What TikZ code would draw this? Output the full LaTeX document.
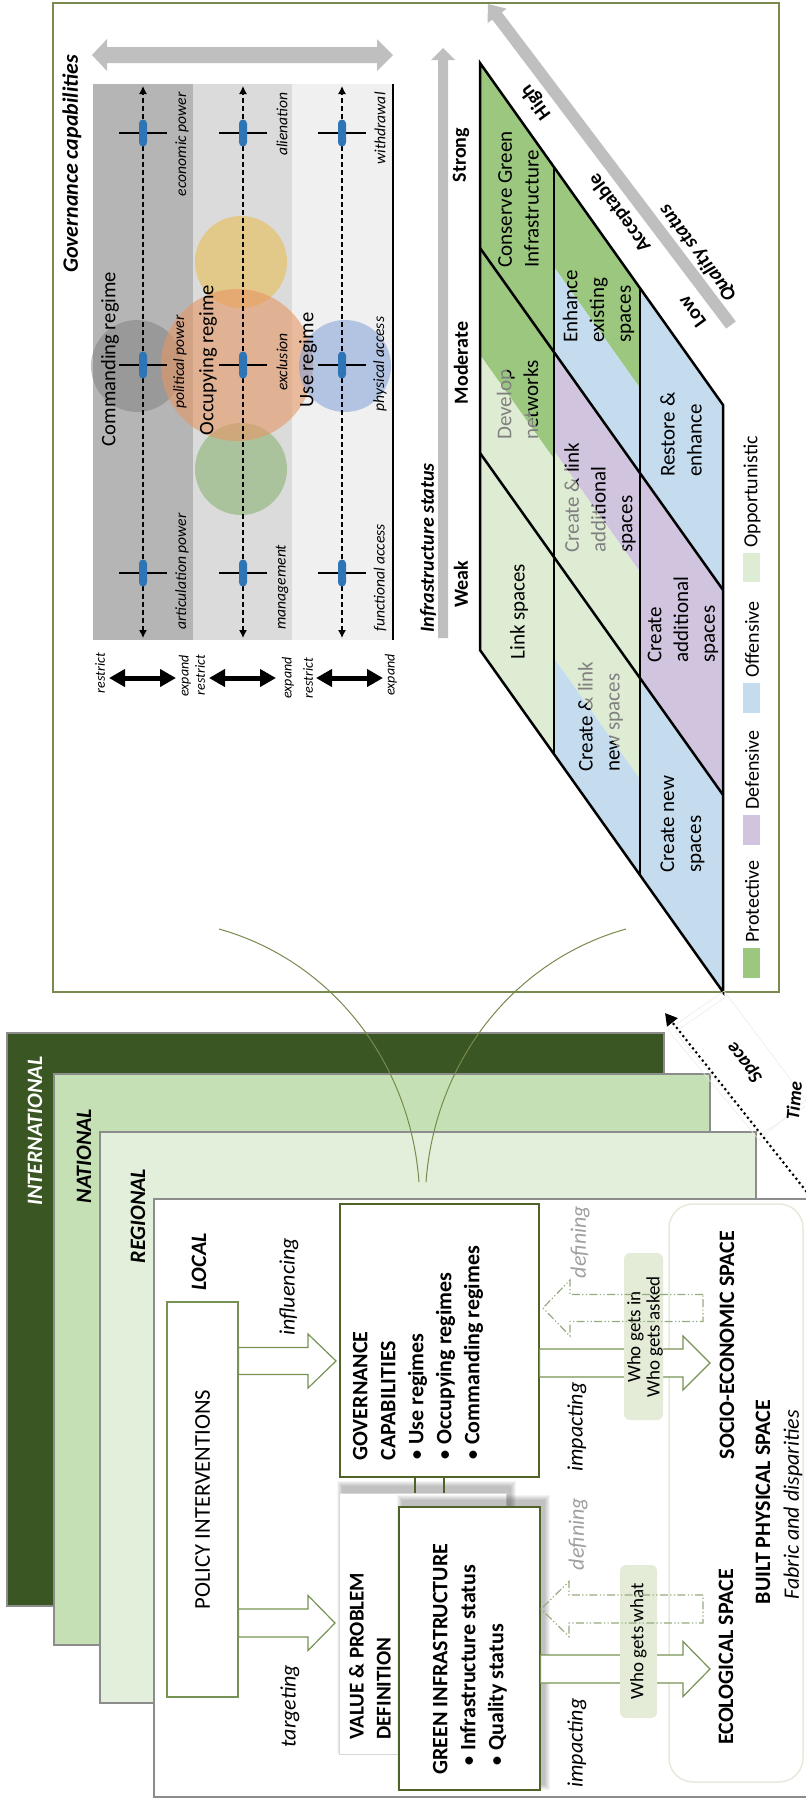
\documentclass[tikz,border=0pt]{standalone}
\usepackage{fontspec}
\setmainfont{Carlito}
\usetikzlibrary{arrows.meta,calc}

\newcommand{\setfs}[2]{\fontsize{#1pt}{#2pt}\selectfont}
\newcommand{\bul}{{\mdseries\textbullet}\hspace{2.5pt}}
% horizontal block arrow: options, tail, tip, half shaft, half head, head length
\newcommand{\blockarrow}[6]{%
  \draw[#1] let \p1=(#2), \p3=(#3), \p2=($(#3)!#6!(#2)$) in
    (\x1,\y3+#4) -- (\x2,\y3+#4) -- (\x2,\y3+#5) -- (\x3,\y3)
    -- (\x2,\y3-#5) -- (\x2,\y3-#4) -- (\x1,\y3-#4) -- cycle;}

\definecolor{panelline}{RGB}{120,138,78}
\definecolor{boxline}{RGB}{118,146,84}
\definecolor{govline}{RGB}{79,98,40}
\definecolor{arrline}{RGB}{118,146,84}
\definecolor{defline}{RGB}{150,170,130}
\definecolor{deftext}{RGB}{160,160,160}
\definecolor{layline}{RGB}{140,140,140}
\definecolor{intgreen}{RGB}{58,86,35}
\definecolor{natgreen}{RGB}{197,224,180}
\definecolor{reggreen}{RGB}{226,239,218}
\definecolor{whofill}{RGB}{228,236,216}
\definecolor{spaceline}{RGB}{228,235,220}
\definecolor{lightbox}{RGB}{215,215,215}
\definecolor{bandA}{RGB}{181,181,181}
\definecolor{bandB}{RGB}{219,219,219}
\definecolor{bandC}{RGB}{240,240,240}
\definecolor{arrgray}{RGB}{191,191,191}
\definecolor{capblue}{RGB}{46,117,182}
\definecolor{protgreen}{RGB}{155,199,126}
\definecolor{oppgreen}{RGB}{223,236,212}
\definecolor{offblue}{RGB}{197,220,239}
\definecolor{defpurple}{RGB}{208,196,222}
\definecolor{cellgray}{RGB}{128,128,128}
\definecolor{circgray}{RGB}{120,120,120}
\definecolor{circgreen}{RGB}{140,180,115}
\definecolor{circyellow}{RGB}{232,185,70}
\definecolor{circorange}{RGB}{230,150,100}
\definecolor{circblue}{RGB}{130,160,215}

\tikzset{
  rt/.style={rotate=90, inner sep=0pt},
  celltxt/.style={rt, anchor=west, align=left, font=\setfs{10.5}{13.4}},
  smallit/.style={rt, font=\setfs{7.8}{9}\itshape},
  tinyit/.style={rt, font=\setfs{7}{8}\itshape},
  axlab/.style={rt, font=\setfs{10}{12}\bfseries},
  qlab/.style={rotate=126, inner sep=0pt, font=\setfs{10}{12}\bfseries},
  leglab/.style={rt, anchor=west, font=\setfs{10}{12}},
  laylab/.style={rt, font=\setfs{11}{13}\bfseries\itshape},
  headtxt/.style={rt, anchor=west, align=left, font=\setfs{11}{14}\bfseries},
  verblab/.style={rt, font=\setfs{11}{13}\itshape},
  regimelab/.style={rt, font=\setfs{10.3}{12}},
  spacelab/.style={rt, font=\setfs{11}{13}\bfseries},
  dasharr/.style={line width=0.6pt, dash pattern=on 2.5pt off 1.5pt,
    {Latex[length=4pt,width=4pt]}-{Latex[length=4pt,width=4pt]}},
  bigdbl/.style={line width=2.5pt,
    {Triangle[length=8pt,width=8.5pt]}-{Triangle[length=8pt,width=8.5pt]}},
  blkarrow/.style={draw=arrline, fill=white, line width=0.6pt},
  defarrow/.style={draw=defline, line width=0.6pt,
    dash pattern=on 4pt off 1.2pt on 0.6pt off 1.2pt on 0.6pt off 1.2pt},
  gridline/.style={line width=1.25pt, line join=miter},
}

\begin{document}
\begin{tikzpicture}[x=0.5pt,y=-0.5pt]
\useasboundingbox (0,0) rectangle (806,1800);

% ================= governance capabilities panel =================
\draw[panelline, line width=0.6pt] (53,3) rectangle (779,992);

% regime bands
\fill[bandA] (93,84) rectangle (193,640);
\fill[bandB] (193,84) rectangle (292,640);
\fill[bandC] (292,84) rectangle (393,640);
\draw[line width=1pt] (393,84) -- (393,640);

% regime circles
\fill[circgray, opacity=.45] (137,366) circle[radius=46];
\fill[circgreen, opacity=.6] (241,469) circle[radius=46];
\fill[circyellow, opacity=.55] (241,262) circle[radius=46];
\fill[circorange, opacity=.6] (237,365) circle[radius=76];
\fill[circblue, opacity=.55] (345,366) circle[radius=46];

% wide grey double arrow
\fill[arrgray] (92,55) -- (107,39) -- (107,47) -- (377,47) -- (377,39) -- (393,55)
  -- (377,71) -- (377,63) -- (107,63) -- (107,71) -- cycle;

% capability scales
\foreach \cx [count=\i] in {143,243,342}{
  \coordinate (dtop\i) at (\cx,86);
  \coordinate (dbot\i) at (\cx,638);
  \draw[dasharr] (dbot\i) -- (dtop\i);
  \foreach \cy in {133,365,573}{
    \draw[line width=0.8pt] (\cx-24,\cy) -- (\cx+24,\cy);
    \fill[capblue, rounded corners=2pt] (\cx-4,\cy-13.5) rectangle (\cx+4,\cy+13.5);
  }
}

\node[smallit, anchor=east] (lb-econ) at (182,92) {economic power};
\node[smallit] (lb-pol) at (180,362) {political power};
\node[smallit, anchor=west] (lb-art) at (182,630) {articulation power};
\node[smallit, anchor=east] (lb-alien) at (282,92) {alienation};
\node[smallit] (lb-excl) at (282,362) {exclusion};
\node[smallit, anchor=west] (lb-mgmt) at (282,630) {management};
\node[smallit, anchor=east] (lb-withd) at (380,92) {withdrawal};
\node[smallit] (lb-phys) at (380,364) {physical access};
\node[smallit, anchor=west] (lb-func) at (380,632) {functional access};

\node[regimelab] (rg-cmd) at (110,359) {Commanding regime};
\node[regimelab] (rg-occ) at (208,360) {Occupying regime};
\node[regimelab] (rg-use) at (308,360) {Use regime};
\node[rt, font=\setfs{11}{13}\bfseries\itshape] (gc-title) at (72,164) {Governance capabilities};

% restrict / expand arrows
\foreach \a/\b [count=\i] in {109/176,209/276,316/383}{
  \coordinate (rea\i) at (\a,678);
  \coordinate (reb\i) at (\b,678);
  \draw[bigdbl] (rea\i) -- (reb\i);
}
\node[tinyit] (rs1) at (100,673) {restrict};
\node[tinyit] (ex1) at (185,676) {expand};
\node[tinyit] (rs2) at (200,675) {restrict};
\node[tinyit] (ex2) at (288,678) {expand};
\node[tinyit] (rs3) at (308,678) {restrict};
\node[tinyit] (ex3) at (391,675) {expand};

% ---------- strategy matrix ----------
% high quality band
\fill[protgreen] (480,63) -- (554,167.1) -- (554,352.1) -- (480,248) -- cycle;
\fill[protgreen] (480,248) -- (554,352.1) -- (554,459.1) -- (480,355) -- cycle;
\fill[oppgreen] (480,355) -- (554,459.1) -- (554,557.1) -- (480,453) -- cycle;
\fill[oppgreen] (480,453) -- (554,557.1) -- (554,754.1) -- (480,650) -- cycle;
% acceptable quality band
\fill[protgreen] (554,167.1) -- (640,288.1) -- (640,388.1) -- (554,267.1) -- cycle;
\fill[offblue] (554,267.1) -- (640,388.1) -- (640,473.1) -- (554,352.1) -- cycle;
\fill[defpurple] (554,352.1) -- (640,473.1) -- (640,572.1) -- (554,451.1) -- cycle;
\fill[oppgreen] (554,451.1) -- (640,572.1) -- (640,678.1) -- (554,557.1) -- cycle;
\fill[oppgreen] (554,557.1) -- (640,678.1) -- (640,779.1) -- (554,658.1) -- cycle;
\fill[offblue] (554,658.1) -- (640,779.1) -- (640,875.1) -- (554,754.1) -- cycle;
% low quality band
\fill[offblue] (640,288.1) -- (723,404.9) -- (723,589.9) -- (640,473.1) -- cycle;
\fill[defpurple] (640,473.1) -- (723,589.9) -- (723,794.9) -- (640,678.1) -- cycle;
\fill[offblue] (640,678.1) -- (723,794.9) -- (723,991.9) -- (640,875.1) -- cycle;

% cell texts
\node[celltxt] (c-cons) at (518.5,268) {Conserve Green\\Infrastructure};
\begin{scope}
  \clip (470,200) -- (560,200) -- (560,472) -- (470,301) -- cycle;
  \node[celltxt] (c-dev-a) at (517.5,440) {Develop\\networks};
\end{scope}
\begin{scope}
  \clip (470,301) -- (560,472) -- (560,600) -- (470,600) -- cycle;
  \node[celltxt, text=cellgray] (c-dev-b) at (517.5,440) {Develop\\networks};
\end{scope}
\node[celltxt] (c-link) at (519,660) {Link spaces};
\node[celltxt] (c-enh) at (598.5,343) {Enhance\\existing\\spaces};
\begin{scope}
  \clip (554,352.1) -- (640,473.1) -- (640,572.1) -- (554,451.1) -- cycle;
  \node[celltxt] (c-cla-a) at (600,553) {Create \& link\\additional\\spaces};
\end{scope}
\begin{scope}
  \clip (554,451.1) -- (640,572.1) -- (640,678.1) -- (554,557.1) -- cycle;
  \node[celltxt, text=cellgray] (c-cla-b) at (600,553) {Create \& link\\additional\\spaces};
\end{scope}
\begin{scope}
  \clip (554,557.1) -- (640,678.1) -- (640,779.1) -- (554,658.1) -- cycle;
  \node[celltxt, text=cellgray] (c-cln-a) at (600.5,772) {Create \& link\\new spaces};
\end{scope}
\begin{scope}
  \clip (554,658.1) -- (640,779.1) -- (640,875.1) -- (554,754.1) -- cycle;
  \node[celltxt] (c-cln-b) at (600.5,772) {Create \& link\\new spaces};
\end{scope}
\node[celltxt] (c-rest) at (681,477) {Restore \&\\enhance};
\node[celltxt] (c-cadd) at (683,663) {Create\\additional\\spaces};
\node[celltxt] (c-cnew) at (682.5,873) {Create new\\spaces};

% grid
\draw[gridline] (480,63) -- (723,404.9) -- (723,991.9) -- (480,650) -- cycle;
\draw[gridline] (480,248) -- (723,589.9);
\draw[gridline] (480,453) -- (723,794.9);
\draw[gridline] (554,167.1) -- (554,754.1);
\draw[gridline] (640,288.1) -- (640,875.1);

% axes
\fill[arrgray] (443,48) -- (455,60) -- (448,60) -- (448,638) -- (438,638) -- (438,60) -- (431,60) -- cycle;
\fill[arrgray] (735.8,321.4) -- (501.8,12.3) -- (506.6,8.7) -- (488,4) -- (487.5,23.2)
  -- (492.3,19.6) -- (726.2,328.6) -- cycle;
\node[axlab] (ax-strong) at (461,155) {Strong};
\node[axlab] (ax-mod) at (461,363) {Moderate};
\node[axlab] (ax-weak) at (461,584) {Weak};
\node[rt, font=\setfs{10}{12}\bfseries\itshape] (ax-infra) at (428,548) {Infrastructure status};
\node[qlab] (q-high) at (536,102) {High};
\node[qlab] (q-acc) at (620,213) {Acceptable};
\node[qlab] (q-low) at (692,312) {Low};
\node[rotate=127, inner sep=0pt, font=\setfs{10}{12}\bfseries\itshape] (ax-qual) at (698,253) {Quality status};

% legend
\fill[protgreen] (743,948) rectangle (760,978);
\node[leglab] (lg-prot) at (752,943) {Protective};
\fill[defpurple] (743,815) rectangle (760,845);
\node[leglab] (lg-def) at (752,810) {Defensive};
\fill[offblue] (743,683) rectangle (760,713);
\node[leglab] (lg-off) at (752,678) {Offensive};
\fill[oppgreen] (743,553) rectangle (760,582);
\node[leglab] (lg-opp) at (752,548) {Opportunistic};

% ================= governance levels =================
\draw[layline, line width=0.75pt, fill=intgreen] (7,1033) rectangle (664,1606);
\draw[layline, line width=0.75pt, fill=natgreen] (54,1074) rectangle (710,1645);
\draw[layline, line width=0.75pt, fill=reggreen] (100,1132) rectangle (756,1703);

% zoom lines from the panel
\coordinate (arcA-s) at (219,929);
\coordinate (arcA-e) at (419,1182);
\coordinate (arcB-s) at (626,929);
\coordinate (arcB-e) at (426,1182);
\draw[panelline, line width=0.5pt] (arcA-s) .. controls (330,960) and (410,1060) .. (arcA-e);
\draw[panelline, line width=0.5pt] (arcB-s) .. controls (515,960) and (435,1060) .. (arcB-e);

\draw[layline, line width=0.75pt, fill=white] (154,1199) rectangle (820,1797);

\node[laylab, text=white] (l-int) at (35,1131) {INTERNATIONAL};
\node[laylab] (l-nat) at (84,1156) {NATIONAL};
\node[laylab] (l-reg) at (138,1216) {REGIONAL};
\node[laylab] (l-loc) at (199,1262) {LOCAL};

% space / time axes
\coordinate (sp-from) at (806,1191);
\coordinate (sp-to) at (665,1013);
\draw[gray!15, line width=0.3pt] (724,991) -- (668,1030) -- (759,1140) -- (806,1100) -- cycle;
\draw[gray!15, line width=0.3pt] (727,996) -- (675,1032) -- (761,1134) -- (806,1106);
\draw[line width=1.5pt, dash pattern=on 0pt off 2.6pt, line cap=round,
  -{Triangle[length=6pt,width=6.5pt]}] (sp-from) -- (sp-to);
\node[rotate=128, inner sep=0pt, font=\setfs{9.5}{11}\bfseries\itshape] (space) at (745,1062) {Space};
\node[rotate=85, inner sep=0pt, font=\setfs{9.5}{11}\bfseries\itshape] (time) at (794,1101) {Time};

% ---------- local level ----------
\node[draw=boxline, fill=white, line width=0.6pt, rotate=90, minimum width=197.5pt,
  minimum height=35.5pt, inner sep=0pt, font=\setfs{11.3}{13}] (policy) at (202.5,1499.5) {POLICY INTERVENTIONS};

\node[draw=govline, fill=white, line width=0.6pt, minimum width=99.5pt,
  minimum height=136.5pt, inner sep=0pt] (gov) at (439.5,1340.5) {};
\node[headtxt] (gov-txt) at (418,1461) {GOVERNANCE\\CAPABILITIES\\\bul Use regimes\\\bul Occupying regimes\\\bul Commanding regimes};

% value & problem definition card
\foreach \k in {1,...,6}{\fill[black,opacity=0.045] (343-\k,1487-\k) rectangle (510+\k,1748+\k);}
\node[draw=lightbox, fill=white, line width=0.4pt, minimum width=83.5pt,
  minimum height=130.5pt, inner sep=0pt] (valbox) at (422.5,1623.5) {};
\node[headtxt, font=\setfs{10.5}{13.5}\bfseries] (val-txt) at (370,1740) {VALUE \& PROBLEM\\DEFINITION};

% green infrastructure card
\foreach \k in {1,...,6}{\fill[black,opacity=0.045] (403-\k,1501-\k) rectangle (544+\k,1784+\k);}
\node[draw=govline, fill=white, line width=0.6pt, minimum width=70.5pt,
  minimum height=141.5pt, inner sep=0pt] (gibox) at (469.5,1648.5) {};
\node[headtxt] (gi-txt) at (470,1775) {GREEN INFRASTRUCTURE\\\hspace*{4pt}\bul Infrastructure status\\\hspace*{4pt}\bul Quality status};

% links between the governance box and the value card
\coordinate (lk1) at (415,1493);
\coordinate (lk2) at (444,1493);
\draw[govline, line width=0.6pt] (lk1 |- gov.south) -- (lk1);
\draw[govline, line width=0.6pt] (lk2 |- gov.south) -- (lk2);

% spaces
\node[draw=spaceline, fill=white, line width=0.75pt, rounded corners=12pt,
  minimum width=67pt, minimum height=289pt, inner sep=0pt] (spaces) at (736,1493) {};

% block arrows
\coordinate (infl-tip) at (336,1361);
\coordinate (infl-tail) at (policy.south |- infl-tip);
\blockarrow{blkarrow}{infl-tail}{infl-tip}{6.75pt}{13.5pt}{14pt}
\coordinate (targ-tip) at (335,1623);
\coordinate (targ-tail) at (policy.south |- targ-tip);
\blockarrow{blkarrow}{targ-tail}{targ-tip}{7pt}{13.75pt}{13.5pt}
\coordinate (impu-tip) at (710,1363);
\coordinate (impu-tail) at (gov.east |- impu-tip);
\blockarrow{blkarrow}{impu-tail}{impu-tip}{7pt}{13.5pt}{13.5pt}
\coordinate (impl-tip) at (710,1669);
\coordinate (impl-tail) at (gibox.east |- impl-tip);
\blockarrow{blkarrow}{impl-tail}{impl-tip}{7pt}{13.75pt}{13.5pt}

% who gets ... labels
\node[fill=whofill, rounded corners=3pt, rotate=90, minimum width=76.5pt,
  minimum height=18.5pt, inner sep=0pt, font=\setfs{9.5}{9.7}] (whatbox) at (638.5,1641.5) {Who gets what};
\node[fill=whofill, rounded corners=3pt, minimum width=19.5pt,
  minimum height=83.5pt, inner sep=0pt] (inbox) at (643.5,1336.5) {};
\node[rt, align=center, font=\setfs{9.5}{9.7}] (in-txt) at (645,1337) {Who gets in\\Who gets asked};

% defining arrows
\coordinate (defu-tail) at (703,1308);
\coordinate (defu-tip) at (543,1308);
\blockarrow{defarrow}{defu-tail}{defu-tip}{6.75pt}{14pt}{13.5pt}
\coordinate (defl-tail) at (703,1609);
\coordinate (defl-tip) at (541,1609);
\blockarrow{defarrow}{defl-tail}{defl-tip}{7pt}{13.75pt}{14pt}

% verbs
\node[verblab] (v-infl) at (289,1287) {influencing};
\node[verblab] (v-targ) at (290,1706) {targeting};
\node[verblab] (v-impu) at (577,1427) {impacting};
\node[verblab] (v-impl) at (577,1743) {impacting};
\node[verblab, text=deftext] (v-defu) at (580,1242) {defining};
\node[verblab, text=deftext] (v-defl) at (578,1534) {defining};

% space names
\node[spacelab] (eco) at (726,1657) {ECOLOGICAL SPACE};
\node[spacelab] (socio) at (727,1345) {SOCIO-ECONOMIC SPACE};
\node[spacelab] (built) at (763,1502) {BUILT PHYSICAL SPACE};
\node[verblab] (fabric) at (793,1505) {Fabric and disparities};

\end{tikzpicture}
\end{document}
